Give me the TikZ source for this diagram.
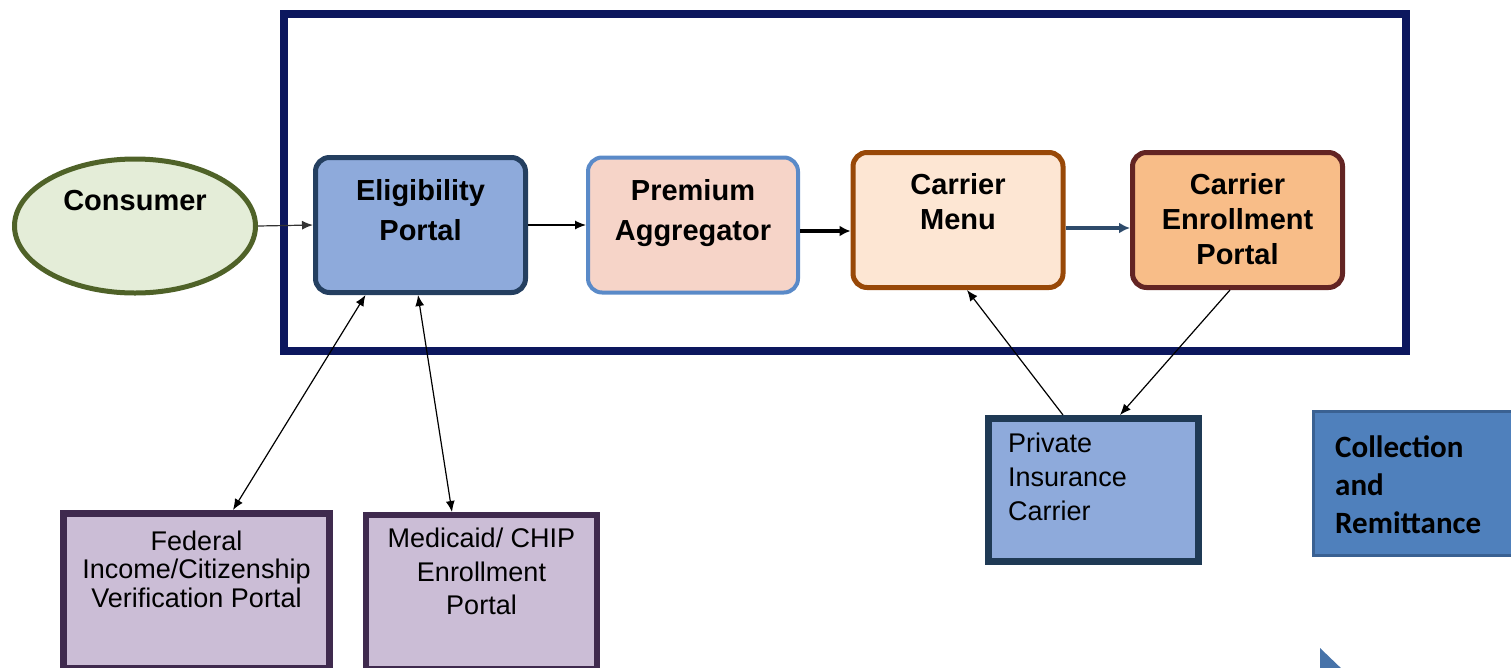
\documentclass[tikz,border=0pt]{standalone}
\usepackage{fontspec}
\setmainfont{Liberation Sans}
\newfontfamily\calibrifont{Carlito}
\usetikzlibrary{arrows.meta,positioning,shapes.geometric}

\definecolor{framenavy}{HTML}{0C175E}
\definecolor{consumerfill}{HTML}{E4EDD8}
\definecolor{consumerline}{HTML}{4F6228}
\definecolor{portalfill}{HTML}{8EAADB}
\definecolor{portalline}{HTML}{243F60}
\definecolor{premiumfill}{HTML}{F6D4C8}
\definecolor{premiumline}{HTML}{5A8AC8}
\definecolor{menufill}{HTML}{FDE6D3}
\definecolor{menuline}{HTML}{984807}
\definecolor{enrollfill}{HTML}{F8BD88}
\definecolor{enrollline}{HTML}{632423}
\definecolor{purplefill}{HTML}{CBBDD6}
\definecolor{purpleline}{HTML}{3F2A4E}
\definecolor{carrierline}{HTML}{1F3A55}
\definecolor{collectfill}{HTML}{4F80BC}
\definecolor{collectline}{HTML}{3A6192}
\definecolor{steelarrow}{HTML}{2E4B6B}

\tikzstyle{portal}=[
	rectangle,
	rounded corners=14pt,
	line width=5pt,
	minimum width=210pt,
	minimum height=135pt,
	inner sep=0pt
]
\tikzstyle{outside}=[
	rectangle,
	line width=7pt,
	inner sep=0pt
]
\tikzstyle{boldtext}=[
	inner sep=0pt,
	align=center,
	anchor=north,
	font=\fontsize{29}{35}\selectfont\bfseries
]
\tikzstyle{plaintext}=[
	inner sep=0pt,
	align=center,
	anchor=north
]
\tikzstyle{flow}=[
	-{Latex[length=11pt,width=9pt]},
	line width=1.2pt
]
\tikzstyle{exchange}=[
	{Latex[length=11pt,width=9pt]}-{Latex[length=11pt,width=9pt]},
	line width=1.2pt
]

\begin{document}
\begin{tikzpicture}[x=1pt,y=-1pt]
\useasboundingbox (0,0) rectangle (1511,667);

% exchange frame
\node [rectangle, draw=framenavy, line width=8pt, minimum width=1122pt, minimum height=337pt] (exchangeframe) at (845,182.5) {};

\node [ellipse, draw=consumerline, fill=consumerfill, line width=5pt, minimum width=241pt, minimum height=134pt,
	label={[name=consumertext, yshift=25pt, font=\fontsize{29}{35}\selectfont\bfseries]center:Consumer}] (consumer) at (135,226) {};

\node [portal, draw=portalline, fill=portalfill,
	label={[boldtext, name=eligtext, yshift=-24pt]north:Eligibility\\[5pt]Portal}] (eligibility) at (420.5,225) {};
\node [portal, draw=premiumline, fill=premiumfill, line width=4pt,
	label={[boldtext, name=premtext, yshift=-24pt]north:Premium\\[5pt]Aggregator}] (premium) at (693,225) {};
\node [portal, draw=menuline, fill=menufill,
	label={[boldtext, name=menutext, yshift=-23pt]north:Carrier\\Menu}] (menu) at (958,220) {};
\node [portal, draw=enrollline, fill=enrollfill,
	label={[boldtext, name=enrolltext, yshift=-23pt]north:Carrier\\Enrollment\\Portal}] (enrollment) at (1237.5,220) {};

\node [outside, draw=purpleline, fill=purplefill, minimum width=266pt, minimum height=155pt,
	label={[plaintext, name=federaltext, yshift=-20.5pt, font=\fontsize{27}{28.5}\selectfont]north:Federal\\Income/Citizenship\\Verification Portal}] (federal) at (196.5,591) {};
\node [outside, draw=purpleline, fill=purplefill, line width=6pt, minimum width=231pt, minimum height=154pt,
	label={[plaintext, name=medicaidtext, yshift=-16pt, font=\fontsize{27}{33.5}\selectfont]north:Medicaid/ CHIP\\Enrollment\\Portal}] (medicaid) at (481.5,592) {};

\node [outside, draw=carrierline, fill=portalfill, minimum width=210pt, minimum height=143pt,
	label={[plaintext, align=left, anchor=north west, name=privatetext, xshift=23pt, yshift=-18pt, font=\fontsize{27}{34}\selectfont]north west:Private\\Insurance\\Carrier}] (private) at (1093.5,490) {};

\node [outside, draw=collectline, fill=collectfill, line width=3pt, minimum width=215pt, minimum height=144pt,
	label={[plaintext, align=left, anchor=north west, name=collecttext, xshift=23pt, yshift=-25.5pt, font=\calibrifont\fontsize{31}{38}\selectfont\bfseries]north west:Collection\\and\\Remittance}] (collection) at (1421,483.5) {};
\fill [collectfill!90!black] (1320,648) -- (1345,672) -- (1320,672) -- cycle;

% flow through the exchange
\draw [flow, draw=black!80] (consumer.east) -- (eligibility.west);
\draw [flow] (eligibility.east) -- (premium.west);
\draw [-{Latex[length=11pt,width=11pt]}, line width=4pt] ([yshift=-6pt]premium.east) -- ([yshift=-11pt]menu.west);
\draw [-{Latex[length=11pt,width=11pt]}, line width=4pt, draw=steelarrow] ([yshift=-8pt]menu.east) -- ([yshift=-8pt]enrollment.west);

% outside links
\draw [exchange] ([xshift=-55pt]eligibility.south) -- ([xshift=36.5pt]federal.north);
\draw [exchange] ([xshift=-2.5pt]eligibility.south) -- ([xshift=-29.5pt]medicaid.north);
\draw [flow] ([xshift=-30.5pt]private.north) -- ([xshift=9pt]menu.south);
\draw [flow] ([xshift=-7.5pt]enrollment.south) -- ([xshift=26.5pt]private.north);
\end{tikzpicture}
\end{document}
